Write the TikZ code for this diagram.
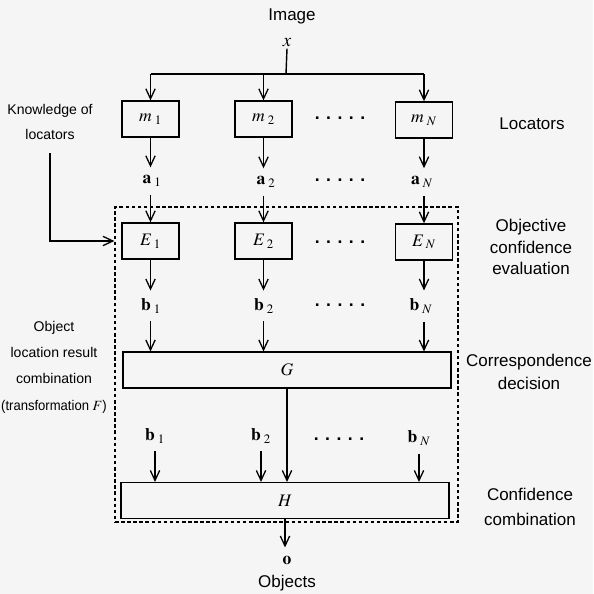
\documentclass[tikz,border=0pt]{standalone}
\usepackage{amsmath}
\usepackage{mathptmx}
\usepackage[no-math]{fontspec}
\setmainfont{Liberation Sans}
\newfontfamily\narrowsans[FakeStretch=0.93]{Liberation Sans}
\usetikzlibrary{arrows.meta}

% large subscript, set apart as in the scan
\newcommand\sbx[1]{_{\;\mbox{\fontsize{11}{11}\selectfont$#1$}}}

\tikzset{
  arr/.style={line width=1.2pt,-{Straight Barb[length=3mm,width=2.8mm,line width=1.1pt]}},
  box/.style={draw,line width=1.2pt,minimum width=1.71cm,minimum height=1.08cm,inner sep=0pt,font=\fontsize{15}{17}\selectfont},
  wide/.style={draw,line width=1.2pt,minimum width=9.84cm,minimum height=1.07cm,inner sep=0pt,font=\fontsize{15}{17}\selectfont},
  sig/.style={inner xsep=0pt,inner ysep=2.4mm,font=\fontsize{15}{17}\selectfont},
  dots/.style={font=\fontsize{15}{17}\selectfont\bfseries},
  side/.style={align=center,font=\fontsize{14.5}{19}\selectfont},
  note/.style={align=center,font=\fontsize{12}{21}\selectfont}
}

\begin{document}
\begin{tikzpicture}[x=0.03cm,y=-0.03cm]
\useasboundingbox[fill=gray!8] (0,0) rectangle (593,594);

% input and locators
\node[font=\fontsize{14.5}{16}\selectfont] (img) at (292,16) {Image};
\node[font=\fontsize{16}{18}\selectfont,inner sep=1pt] (x) at (287,43) {$x$};
\coordinate (split) at (286,74);
\node[box] (m1) at (150.5,119) {$m\sbx{1}$};
\node[box] (m2) at (263.5,119) {$m\sbx{2}$};
\node[box] (mN) at (424,120) {$m\sbx{N}$};
\node[dots] (dm) at (340,118) {. . . . .};

\draw[line width=1.2pt] (x.south) -- (split);
\draw[line width=1.2pt] (m1.north |- split) -- (mN.north |- split);
\foreach \m in {m1,m2,mN}
  \draw[arr] (\m.north |- split) -- (\m.north);

% locator outputs
\node[sig] (a1) at (152,181) {$\mathbf{a}\sbx{1}$};
\node[sig] (a2) at (266,182) {$\mathbf{a}\sbx{2}$};
\node[sig] (aN) at (422,182) {$\mathbf{a}\sbx{N}$};
\node[dots] (da) at (340,180) {. . . . .};

% fusion block
\node[draw,dashed,line width=1pt,dash pattern=on 3pt off 2.2pt,
      minimum width=10.29cm,minimum height=9.45cm] (F) at (286.5,364.5) {};
\node[box] (E1) at (150.5,241) {$E\sbx{1}$};
\node[box] (E2) at (263.5,241) {$E\sbx{2}$};
\node[box] (EN) at (424,242) {$E\sbx{N}$};
\node[dots] (dE) at (340,242) {. . . . .};

\draw[arr] (m1.south) -- (m1.south |- a1.north);
\draw[arr] (m2.south) -- (m2.south |- a2.north);
\draw[arr] (mN.south) -- (mN.south |- aN.north);
\draw[arr] (E1.north |- a1.south) -- (E1.north);
\draw[arr] (E2.north |- a2.south) -- (E2.north);
\draw[arr] (EN.north |- aN.south) -- (EN.north);

\node[sig] (b1) at (151,306) {$\mathbf{b}\sbx{1}$};
\node[sig] (b2) at (264,306) {$\mathbf{b}\sbx{2}$};
\node[sig] (bN) at (421,306) {$\mathbf{b}\sbx{N}$};
\node[dots] (db) at (340,305) {. . . . .};

\node[wide] (G) at (287,370) {$G$};
\draw[arr] (E1.south) -- (E1.south |- b1.north);
\draw[arr] (E2.south) -- (E2.south |- b2.north);
\draw[arr] (EN.south) -- (EN.south |- bN.north);
\draw[arr] (E1.south |- b1.south) -- (E1.south |- G.north);
\draw[arr] (E2.south |- b2.south) -- (E2.south |- G.north);
\draw[arr] (EN.south |- bN.south) -- (EN.south |- G.north);

\node[sig] (c1) at (155,436) {$\mathbf{b}\sbx{1}$};
\node[sig] (c2) at (261,436) {$\mathbf{b}\sbx{2}$};
\node[sig] (cN) at (419,438) {$\mathbf{b}\sbx{N}$};
\node[dots] (dc) at (339,439) {. . . . .};

\node[wide] (H) at (285,500.5) {$H$};
\draw[arr] (G.south) -- (G.south |- H.north);
\foreach \c in {c1,c2,cN}
  \draw[arr] (\c.south) -- (\c.south |- H.north);

% output
\node[sig] (o) at (287,560) {$\mathbf{o}$};
\draw[arr] (H.south) -- (H.south |- o.north);
\node[font=\fontsize{14.5}{16}\selectfont] (obj) at (287,583) {Objects};

% side notes
\node[note,inner ysep=4mm] (know) at (50,122) {Knowledge of\\locators};
\draw[arr] (know.south) |- (F.west |- E1);
\node[note,font=\fontsize{12}{22.5}\selectfont] (comb) at (54,367)
  {Object\\location result\\combination\\{\narrowsans(transformation $F$)}};

\node[side] (loc) at (532,124) {Locators};
\node[side,font=\fontsize{14.5}{18.3}\selectfont] (oce) at (531,247) {Objective\\confidence\\evaluation};
\node[side] (cd) at (529,372) {Correspondence\\decision};
\node[side,font=\fontsize{14.5}{22}\selectfont] (cc) at (530,507) {Confidence\\combination};
\end{tikzpicture}
\end{document}
